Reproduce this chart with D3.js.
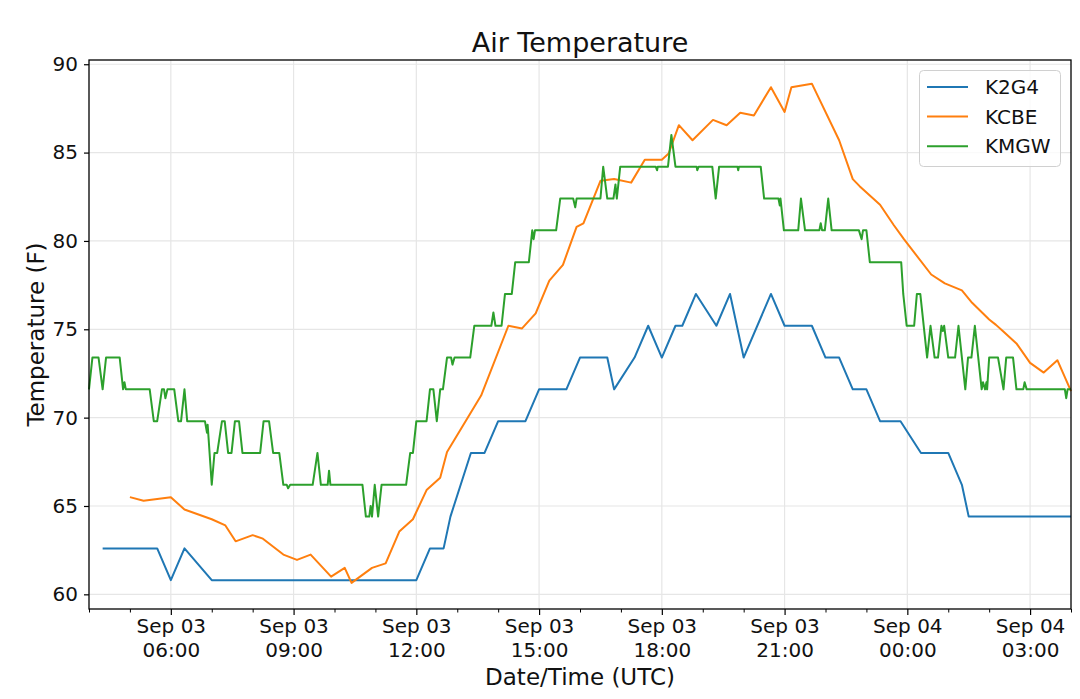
<!DOCTYPE html>
<html>
<head>
<meta charset="utf-8">
<script src="https://cdn.jsdelivr.net/npm/d3@7"></script>
<style>
  html, body { margin: 0; padding: 0; background: #fff; }
  svg { display: block; font-family: "DejaVu Sans", sans-serif; }
</style>
</head>
<body>
<svg id="chart" width="1080" height="699"></svg>
<script>
// ---------------- DATA ----------------
const seriesNames = ["K2G4", "KCBE", "KMGW"];
const yTicks = [60, 65, 70, 75, 80, 85, 90];
const xDomain = ["09-03 04:00", "09-04 04:00"];

const k2g4Times = ["09-03 04:20","09-03 04:40","09-03 05:00","09-03 05:20","09-03 05:40","09-03 06:00","09-03 06:20","09-03 07:00","09-03 08:00","09-03 09:00","09-03 10:00","09-03 11:00","09-03 12:00","09-03 12:20","09-03 12:40","09-03 12:50","09-03 13:20","09-03 13:40","09-03 14:00","09-03 14:20","09-03 14:40","09-03 15:00","09-03 15:20","09-03 15:40","09-03 16:00","09-03 16:20","09-03 16:40","09-03 16:50","09-03 17:20","09-03 17:40","09-03 18:00","09-03 18:20","09-03 18:30","09-03 18:50","09-03 19:20","09-03 19:40","09-03 20:00","09-03 20:40","09-03 21:00","09-03 21:20","09-03 21:40","09-03 22:00","09-03 22:20","09-03 22:40","09-03 23:00","09-03 23:20","09-03 23:50","09-04 00:20","09-04 00:40","09-04 01:00","09-04 01:20","09-04 01:30","09-04 02:00","09-04 03:00","09-04 04:00"];
const k2g4Temps = [62.6,62.6,62.6,62.6,62.6,60.8,62.6,60.8,60.8,60.8,60.8,60.8,60.8,62.6,62.6,64.4,68.0,68.0,69.8,69.8,69.8,71.6,71.6,71.6,73.4,73.4,73.4,71.6,73.4,75.2,73.4,75.2,75.2,77.0,75.2,77.0,73.4,77.0,75.2,75.2,75.2,73.4,73.4,71.6,71.6,69.8,69.8,68.0,68.0,68.0,66.2,64.4,64.4,64.4,64.4];

const kcbeTimes = ["09-03 05:00","09-03 05:20","09-03 06:00","09-03 06:20","09-03 07:00","09-03 07:20","09-03 07:35","09-03 08:00","09-03 08:15","09-03 08:45","09-03 09:05","09-03 09:25","09-03 09:55","09-03 10:15","09-03 10:25","09-03 10:55","09-03 11:15","09-03 11:35","09-03 11:55","09-03 12:15","09-03 12:35","09-03 12:45","09-03 13:35","09-03 14:15","09-03 14:35","09-03 14:55","09-03 15:15","09-03 15:35","09-03 15:55","09-03 16:05","09-03 16:30","09-03 16:50","09-03 17:15","09-03 17:35","09-03 18:00","09-03 18:10","09-03 18:25","09-03 18:45","09-03 19:15","09-03 19:35","09-03 19:55","09-03 20:15","09-03 20:40","09-03 21:00","09-03 21:10","09-03 21:40","09-03 22:20","09-03 22:40","09-03 22:50","09-03 23:20","09-03 23:40","09-03 23:55","09-04 00:35","09-04 00:55","09-04 01:20","09-04 01:35","09-04 02:00","09-04 02:10","09-04 02:20","09-04 02:40","09-04 03:00","09-04 03:20","09-04 03:40","09-04 04:00"];
const kcbeTemps = [65.5,65.3,65.5,64.8,64.25,63.9,63.0,63.35,63.15,62.25,61.95,62.25,61.0,61.5,60.65,61.5,61.75,63.55,64.25,65.9,66.6,68.05,71.25,75.2,75.05,75.9,77.75,78.65,80.8,81.0,83.4,83.5,83.3,84.6,84.6,84.95,86.55,85.7,86.85,86.55,87.25,87.1,88.7,87.3,88.7,88.9,85.7,83.5,83.1,82.05,80.9,80.1,78.1,77.6,77.2,76.5,75.55,75.25,74.9,74.2,73.1,72.55,73.25,71.5];

const kmgwTimes = ["09-03 04:00","09-03 04:05","09-03 04:14","09-03 04:20","09-03 04:25","09-03 04:45","09-03 04:50","09-03 04:52","09-03 04:54","09-03 05:29","09-03 05:35","09-03 05:40","09-03 05:47","09-03 05:50","09-03 05:52","09-03 05:55","09-03 06:05","09-03 06:11","09-03 06:15","09-03 06:20","09-03 06:24","09-03 06:50","09-03 06:53","09-03 06:54","09-03 07:00","09-03 07:04","09-03 07:08","09-03 07:15","09-03 07:19","09-03 07:24","09-03 07:29","09-03 07:34","09-03 07:40","09-03 07:45","09-03 08:11","09-03 08:16","09-03 08:24","09-03 08:30","09-03 08:39","09-03 08:45","09-03 08:50","09-03 08:52","09-03 08:55","09-03 09:28","09-03 09:35","09-03 09:40","09-03 09:50","09-03 09:52","09-03 09:54","09-03 10:41","09-03 10:46","09-03 10:51","09-03 10:53","09-03 10:55","09-03 10:59","09-03 11:04","09-03 11:09","09-03 11:45","09-03 11:51","09-03 11:55","09-03 12:00","09-03 12:15","09-03 12:20","09-03 12:25","09-03 12:30","09-03 12:35","09-03 12:39","09-03 12:45","09-03 12:51","09-03 12:53","09-03 12:56","09-03 13:19","09-03 13:25","09-03 13:50","09-03 13:53","09-03 13:56","09-03 14:05","09-03 14:10","09-03 14:20","09-03 14:25","09-03 14:45","09-03 14:50","09-03 14:52","09-03 14:54","09-03 15:25","09-03 15:31","09-03 15:50","09-03 15:53","09-03 15:55","09-03 16:30","09-03 16:34","09-03 16:40","09-03 16:49","09-03 16:52","09-03 16:54","09-03 16:59","09-03 17:51","09-03 17:53","09-03 17:54","09-03 18:09","09-03 18:14","09-03 18:20","09-03 18:51","09-03 18:52","09-03 18:54","09-03 19:14","09-03 19:19","09-03 19:24","09-03 19:51","09-03 19:52","09-03 19:53","09-03 20:25","09-03 20:30","09-03 20:51","09-03 20:53","09-03 20:54","09-03 20:59","09-03 21:20","09-03 21:24","09-03 21:30","09-03 21:51","09-03 21:53","09-03 21:55","09-03 21:59","09-03 22:04","09-03 22:09","09-03 22:49","09-03 22:53","09-03 22:55","09-03 23:00","09-03 23:05","09-03 23:51","09-03 23:54","09-03 23:59","09-04 00:10","09-04 00:14","09-04 00:19","09-04 00:29","09-04 00:34","09-04 00:40","09-04 00:45","09-04 00:50","09-04 00:52","09-04 00:54","09-04 01:00","09-04 01:10","09-04 01:15","09-04 01:25","09-04 01:29","09-04 01:34","09-04 01:39","09-04 01:49","09-04 01:51","09-04 01:54","09-04 01:56","09-04 01:57","09-04 02:00","09-04 02:13","09-04 02:21","09-04 02:25","09-04 02:35","09-04 02:40","09-04 02:50","09-04 02:52","09-04 02:55","09-04 03:51","09-04 03:53","09-04 03:55","09-04 04:00"];
const kmgwTemps = [71.6,73.4,73.4,71.6,73.4,73.4,71.6,72.0,71.6,71.6,69.8,69.8,71.6,71.6,71.1,71.6,71.6,69.8,69.8,71.6,69.8,69.8,69.15,69.6,66.2,68.0,68.0,69.8,69.8,68.0,68.0,69.8,69.8,68.0,68.0,69.8,69.8,68.0,68.0,66.2,66.2,66.0,66.2,66.2,68.0,66.2,66.2,67.0,66.2,66.2,64.4,64.4,65.0,64.4,66.2,64.4,66.2,66.2,68.0,68.0,69.8,69.8,71.6,71.6,69.8,71.6,71.6,73.4,73.4,73.0,73.4,73.4,75.2,75.2,75.95,75.2,75.2,77.0,77.0,78.8,78.8,80.6,80.1,80.6,80.6,82.4,82.4,81.9,82.4,82.4,84.2,82.4,82.4,83.2,82.4,84.2,84.2,84.0,84.2,84.2,86.0,84.2,84.2,84.0,84.2,84.2,82.4,84.2,84.2,84.0,84.2,84.2,82.4,82.4,82.0,82.4,80.6,80.6,82.4,80.6,80.6,81.0,80.6,80.6,82.4,80.6,80.6,80.1,80.6,80.6,78.8,78.8,77.0,75.2,75.2,77.0,77.0,73.4,75.2,73.4,73.4,75.2,74.9,75.2,73.4,73.4,75.2,71.6,73.4,73.4,75.2,71.6,72.0,71.6,72.0,71.6,73.4,73.4,71.6,73.4,73.4,71.6,71.6,72.0,71.6,71.6,71.1,71.6,71.6];

// ---------------- CHART ----------------
const parseT = d3.utcParse("%m-%d %H:%M");
const colors = ["#1f77b4", "#ff7f0e", "#2ca02c"];
const seriesData = [
  k2g4Times.map((t, i) => ({ t: parseT(t), v: k2g4Temps[i] })),
  kcbeTimes.map((t, i) => ({ t: parseT(t), v: kcbeTemps[i] })),
  kmgwTimes.map((t, i) => ({ t: parseT(t), v: kmgwTemps[i] }))
];

const L = 89, R = 1071, T = 60, B = 609;
const svg = d3.select("#chart");
const x = d3.scaleUtc().domain(xDomain.map(parseT)).range([L, R]);
const y = d3.scaleLinear().domain([59.17, 90.24]).range([B, T]);

const gridColor = "#e6e6e6";
const majorTicks = x.ticks(d3.utcHour.every(3));
const minorTicks = x.ticks(d3.utcHour.every(1)).filter(d => d.getUTCHours() % 3 !== 0);

// grid
const grid = svg.append("g");
grid.selectAll(".gx").data(majorTicks).join("line")
  .attr("x1", d => x(d)).attr("x2", d => x(d)).attr("y1", T).attr("y2", B)
  .attr("stroke", gridColor).attr("stroke-width", 1.2);
grid.selectAll(".gy").data(yTicks).join("line")
  .attr("x1", L).attr("x2", R).attr("y1", d => y(d)).attr("y2", d => y(d))
  .attr("stroke", gridColor).attr("stroke-width", 1.2);

// lines
const line = d3.line().x(d => x(d.t)).y(d => y(d.v));
const plot = svg.append("g");
seriesData.forEach((data, i) => {
  plot.append("path").datum(data).attr("d", line)
    .attr("fill", "none").attr("stroke", colors[i])
    .attr("stroke-width", 2).attr("stroke-linejoin", "round").attr("stroke-linecap", "butt");
});

// frame
svg.append("rect").attr("x", L).attr("y", T).attr("width", R - L).attr("height", B - T)
  .attr("fill", "none").attr("stroke", "#000").attr("stroke-width", 1.3);

// y axis
const yAxis = d3.axisLeft(y).tickValues(yTicks).tickSize(5).tickPadding(6).tickFormat(d3.format("d"));
const gy = svg.append("g").attr("transform", `translate(${L},0)`).call(yAxis);
gy.select(".domain").remove();
gy.selectAll("text").attr("font-size", 20).attr("fill", "#111").attr("font-family", "DejaVu Sans");
gy.selectAll(".tick line").attr("stroke", "#000").attr("stroke-width", 1.2);

// x axis minor
const gxMinor = svg.append("g").attr("transform", `translate(0,${B})`)
  .call(d3.axisBottom(x).tickValues(minorTicks).tickSize(3.5).tickFormat(""));
gxMinor.select(".domain").remove();
gxMinor.selectAll(".tick line").attr("stroke", "#000").attr("stroke-width", 1);

// x axis major
const gx = svg.append("g").attr("transform", `translate(0,${B})`)
  .call(d3.axisBottom(x).tickValues(majorTicks).tickSize(6).tickFormat(""));
gx.select(".domain").remove();
gx.selectAll(".tick line").attr("stroke", "#000").attr("stroke-width", 1.2);
const fmtDay = d3.utcFormat("%b %d"), fmtHour = d3.utcFormat("%H:%M");
gx.selectAll(".tick").each(function(d) {
  const t = d3.select(this).append("text").attr("text-anchor", "middle")
    .attr("font-size", 20).attr("fill", "#111").attr("font-family", "DejaVu Sans");
  t.append("tspan").attr("x", 0).attr("y", 24).text(fmtDay(d));
  t.append("tspan").attr("x", 0).attr("y", 48).text(fmtHour(d));
});

// labels
svg.append("text").attr("x", (L + R) / 2).attr("y", 52).attr("text-anchor", "middle")
  .attr("font-size", 27).attr("fill", "#111").text("Air Temperature");
svg.append("text").attr("x", (L + R) / 2).attr("y", 685).attr("text-anchor", "middle")
  .attr("font-size", 23).attr("fill", "#111").text("Date/Time (UTC)");
svg.append("text").attr("transform", `translate(44,${(T + B) / 2}) rotate(-90)`)
  .attr("text-anchor", "middle").attr("font-size", 23).attr("fill", "#111").text("Temperature (F)");

// legend
const lg = svg.append("g");
lg.append("rect").attr("x", 919.5).attr("y", 70.5).attr("width", 141).attr("height", 96)
  .attr("rx", 4).attr("fill", "#fff").attr("fill-opacity", 0.8)
  .attr("stroke", "#d0d0d0").attr("stroke-width", 1);
seriesNames.forEach((name, i) => {
  const cy = 87 + i * 29.6;
  lg.append("line").attr("x1", 927).attr("x2", 968).attr("y1", cy).attr("y2", cy)
    .attr("stroke", colors[i]).attr("stroke-width", 2);
  lg.append("text").attr("x", 985).attr("y", cy + 7).attr("font-size", 20)
    .attr("fill", "#111").text(name);
});
</script>
</body>
</html>
